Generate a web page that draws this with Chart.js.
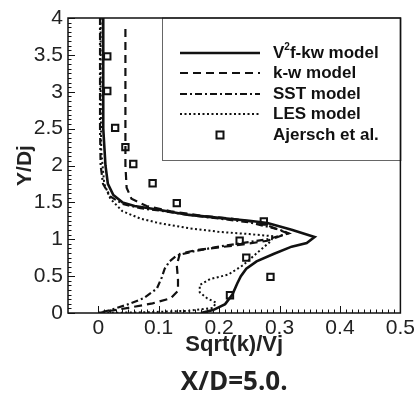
<!DOCTYPE html>
<html>
<head>
<meta charset="utf-8">
<script src="https://cdn.jsdelivr.net/npm/chart.js@4.4.0/dist/chart.umd.min.js"></script>
<style>
  html, body { margin: 0; padding: 0; background: #fff; }
  #wrap { width: 418px; height: 396px; }
</style>
</head>
<body>
<div id="wrap"><canvas id="kchart"></canvas></div>
<script>
// tick labels
var xTicks = [0, 0.1, 0.2, 0.3, 0.4, 0.5];
var yTicks = [0, 0.5, 1, 1.5, 2, 2.5, 3, 3.5, 4];

// V2f-kw model (solid)
var v2fX = [0.008, 0.008, 0.008, 0.009, 0.012, 0.016, 0.025, 0.04, 0.06, 0.1, 0.15, 0.2, 0.25, 0.28, 0.32, 0.358, 0.345, 0.32, 0.29, 0.262, 0.245, 0.236, 0.23, 0.222, 0.21, 0.19, 0.17];
var v2fY = [4, 3.5, 3, 2.5, 2.0, 1.75, 1.6, 1.5, 1.45, 1.4, 1.33, 1.29, 1.25, 1.22, 1.13, 1.03, 0.95, 0.9, 0.8, 0.7, 0.6, 0.5, 0.4, 0.25, 0.12, 0.04, 0];

// k-w model (dashed)
var kwX = [0.045, 0.045, 0.045, 0.045, 0.045, 0.047, 0.055, 0.08, 0.12, 0.17, 0.22, 0.27, 0.314, 0.28, 0.24, 0.2, 0.16, 0.135, 0.13, 0.132, 0.132, 0.12, 0.09, 0.05, 0.02, 0];
var kwY = [3.85, 3.5, 3, 2.5, 2, 1.7, 1.55, 1.45, 1.38, 1.32, 1.28, 1.22, 1.08, 0.98, 0.93, 0.89, 0.85, 0.8, 0.65, 0.45, 0.3, 0.2, 0.13, 0.07, 0.03, 0];

// SST model (dash-dot)
var sstX = [0.003, 0.003, 0.003, 0.003, 0.004, 0.008, 0.02, 0.04, 0.07, 0.1, 0.15, 0.2, 0.25, 0.3, 0.315, 0.28, 0.24, 0.2, 0.16, 0.13, 0.118, 0.11, 0.105, 0.097, 0.075, 0.05, 0.02, 0];
var sstY = [4, 3.5, 3, 2.5, 2, 1.75, 1.58, 1.48, 1.42, 1.39, 1.33, 1.28, 1.23, 1.13, 1.08, 1.0, 0.95, 0.9, 0.84, 0.78, 0.7, 0.6, 0.48, 0.33, 0.2, 0.12, 0.04, 0];

// LES model (dotted)
var lesX = [0.004, 0.004, 0.004, 0.005, 0.01, 0.02, 0.04, 0.07, 0.1, 0.15, 0.2, 0.25, 0.29, 0.285, 0.265, 0.24, 0.215, 0.185, 0.168, 0.168, 0.18, 0.195, 0.19, 0.15, 0.08, 0];
var lesY = [4, 3.5, 3, 2.2, 1.75, 1.55, 1.38, 1.28, 1.22, 1.15, 1.1, 1.07, 1.04, 0.97, 0.83, 0.65, 0.52, 0.46, 0.38, 0.28, 0.2, 0.14, 0.07, 0.03, 0.01, 0];

// Ajersch et al. (squares)
var expX = [0.015, 0.015, 0.028, 0.045, 0.058, 0.09, 0.13, 0.274, 0.234, 0.245, 0.285, 0.218];
var expY = [3.48, 3.01, 2.51, 2.25, 2.02, 1.76, 1.49, 1.24, 0.98, 0.75, 0.49, 0.24];

var caption = 'X/D=5.0.';

function pts(xs, ys) {
    var out = [];
    for (var i in xs) {
        out.push({x: xs[i], y: ys[i]});
    }
    return out;
}

var ink = '#111';

// frame, inward ticks (major + minor), boxed legend and caption
var framePlugin = {
    id: 'frame',
    afterDraw: function(chart) {
        var ctx = chart.ctx;
        var a = chart.chartArea;
        var xs = chart.scales.x, ys = chart.scales.y;
        ctx.save();
        ctx.strokeStyle = ink;
        ctx.lineWidth = 1;
        // x ticks
        for (var i = 0; i <= 50; i++) {
            var v = i * 0.01;
            var px = Math.round(xs.getPixelForValue(v)) + 0.5;
            var len = (i % 10 === 0) ? 7 : 3.5;
            ctx.beginPath();
            ctx.moveTo(px, a.bottom);
            ctx.lineTo(px, a.bottom - len);
            ctx.stroke();
        }
        // y ticks
        for (var j = 0; j <= 64; j++) {
            var vy = j * 0.0625;
            var py = Math.round(ys.getPixelForValue(vy)) + 0.5;
            var leny = (j % 8 === 0) ? 7 : 3.5;
            ctx.beginPath();
            ctx.moveTo(a.left, py);
            ctx.lineTo(a.left + leny, py);
            ctx.stroke();
        }

        // legend box
        var bx = Math.round(xs.getPixelForValue(0.106));
        var by = Math.round(ys.getPixelForValue(2.07));
        ctx.lineWidth = 1;
        ctx.fillStyle = '#fff';
        ctx.strokeStyle = '#666';
        ctx.fillRect(bx, a.top, a.right - bx, by - a.top);
        ctx.strokeRect(bx + 0.5, a.top, a.right - bx, by - a.top + 0.5);
        ctx.strokeStyle = ink;
        ctx.lineWidth = 1.5;
        ctx.strokeRect(a.left, a.top, a.right - a.left, a.bottom - a.top);

        var rowY = [53, 73, 94, 114, 135];
        var sx0 = bx + 18, sx1 = bx + 98, tx = bx + 111;
        ctx.font = 'bold 17px "Liberation Sans", Arial, sans-serif';
        ctx.textBaseline = 'middle';
        ctx.textAlign = 'left';
        chart.data.datasets.forEach(function(ds, k) {
            var ry = rowY[k];
            ctx.save();
            ctx.strokeStyle = ink;
            ctx.lineWidth = ds.borderWidth;
            if (ds.showLine) {
                ctx.setLineDash(ds.borderDash || []);
                ctx.beginPath();
                ctx.moveTo(sx0, ry);
                ctx.lineTo(sx1, ry);
                ctx.stroke();
            } else {
                ctx.lineWidth = 2;
                ctx.strokeRect((sx0 + sx1) / 2 - 3.5, ry - 3.5, 7, 7);
            }
            ctx.restore();
            ctx.fillStyle = ink;
            if (k === 0) {
                ctx.fillText('V', tx, ry);
                var w = ctx.measureText('V').width;
                ctx.font = 'bold 10px "Liberation Sans", Arial, sans-serif';
                ctx.fillText('2', tx + w, ry - 6);
                var w2 = ctx.measureText('2').width;
                ctx.font = 'bold 17px "Liberation Sans", Arial, sans-serif';
                ctx.fillText('f-kw model', tx + w + w2, ry);
            } else {
                ctx.fillText(ds.label, tx, ry);
            }
        });

        // caption under the axis title
        ctx.fillStyle = '#222';
        ctx.textAlign = 'center';
        ctx.textBaseline = 'middle';
        ctx.font = 'bold 26px "Open Sans", sans-serif';
        ctx.fillText(caption, (a.left + a.right) / 2, 383);
        ctx.restore();
    }
};

var ctx = document.getElementById('kchart');
var chart = new Chart(ctx, {
    type: 'scatter',
    data: {
        datasets: [
            {
                label: 'V2f-kw model',
                data: pts(v2fX, v2fY),
                showLine: true,
                borderColor: ink,
                borderWidth: 2.6,
                pointRadius: 0,
                fill: false
            },
            {
                label: 'k-w model',
                data: pts(kwX, kwY),
                showLine: true,
                borderColor: ink,
                borderWidth: 2.2,
                borderDash: [8, 5],
                pointRadius: 0,
                fill: false
            },
            {
                label: 'SST model',
                data: pts(sstX, sstY),
                showLine: true,
                borderColor: ink,
                borderWidth: 2.2,
                borderDash: [7, 3, 2, 3],
                pointRadius: 0,
                fill: false
            },
            {
                label: 'LES model',
                data: pts(lesX, lesY),
                showLine: true,
                borderColor: ink,
                borderWidth: 2,
                borderDash: [2, 2.5],
                pointRadius: 0,
                fill: false
            },
            {
                label: 'Ajersch et al.',
                data: pts(expX, expY),
                showLine: false,
                pointStyle: 'rect',
                pointRadius: 4.5,
                pointBorderWidth: 2,
                pointBorderColor: ink,
                pointBackgroundColor: 'rgba(0,0,0,0)',
                borderWidth: 2
            }
        ]
    },
    plugins: [framePlugin],
    options: {
        responsive: true,
        maintainAspectRatio: false,
        animation: false,
        layout: { padding: { left: 0, right: 17, top: 18, bottom: 26 } },
        plugins: {
            legend: { display: false },
            tooltip: { enabled: false }
        },
        scales: {
            x: {
                type: 'linear',
                min: -0.05,
                max: 0.5,
                afterBuildTicks: function(scale) {
                    scale.ticks = xTicks.map(function(v) { return {value: v}; });
                },
                afterFit: function(scale) { scale.height = 57; },
                grid: { display: false, drawTicks: false },
                border: { display: false },
                ticks: {
                    padding: 3,
                    color: '#222',
                    font: { family: '"Liberation Sans", Arial, sans-serif', size: 21 },
                    maxRotation: 0,
                    callback: function(v) { return String(Math.round(v * 10) / 10); }
                },
                title: {
                    display: true,
                    text: 'Sqrt(k)/Vj',
                    color: '#222',
                    font: { family: '"Liberation Sans", Arial, sans-serif', size: 22, weight: 'bold' },
                    padding: { top: 0, bottom: 12 }
                }
            },
            y: {
                type: 'linear',
                min: 0,
                max: 4,
                afterBuildTicks: function(scale) {
                    scale.ticks = yTicks.map(function(v) { return {value: v}; });
                },
                afterFit: function(scale) { scale.width = 68; },
                grid: { display: false, drawTicks: false },
                border: { display: false },
                ticks: {
                    padding: 5,
                    color: '#222',
                    font: { family: '"Liberation Sans", Arial, sans-serif', size: 21 },
                    callback: function(v) { return String(v); }
                },
                title: {
                    display: true,
                    text: 'Y/Dj',
                    color: '#222',
                    font: { family: '"Liberation Sans", Arial, sans-serif', size: 21, weight: 'bold' },
                    padding: { top: 13, bottom: 0 }
                }
            }
        }
    }
});
</script>
</body>
</html>
